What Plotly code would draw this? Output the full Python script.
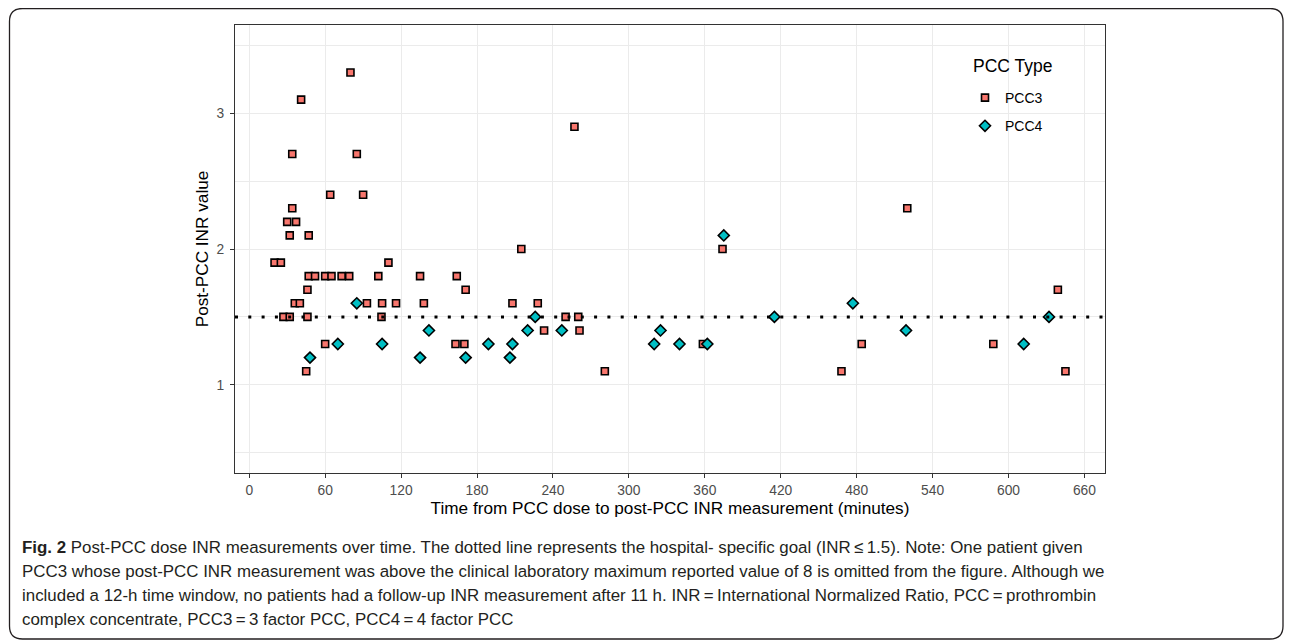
import plotly.graph_objects as go

# ---- data (minutes, INR) ----
pcc3_time = [20, 25, 27, 32, 46, 30, 37, 32, 47, 34, 34, 41, 80, 85, 64, 90,
             47, 52, 60, 65, 73, 79, 46, 36, 40, 93, 105, 116, 138, 104.5, 60, 45,
             110, 102, 135, 164, 171, 208, 228, 215, 250, 260, 233, 261, 163, 170,
             281, 257, 374, 358.5, 468, 484, 520, 588, 639, 645]
pcc3_inr = [1.9, 1.9, 1.5, 1.5, 1.5, 2.2, 2.2, 2.1, 2.1, 2.3, 2.7, 3.1, 3.3, 2.7, 2.4, 2.4,
            1.8, 1.8, 1.8, 1.8, 1.8, 1.8, 1.7, 1.6, 1.6, 1.6, 1.6, 1.6, 1.6, 1.5, 1.3, 1.1,
            1.9, 1.8, 1.8, 1.8, 1.7, 1.6, 1.6, 2.0, 1.5, 1.5, 1.4, 1.4, 1.3, 1.3,
            1.1, 2.9, 2.0, 1.3, 1.1, 1.3, 2.3, 1.3, 1.7, 1.1]

pcc4_time = [48, 70, 85, 105, 135, 142, 171, 189, 206, 208, 220, 226, 247,
             320, 325, 340, 362, 375, 415, 477, 519, 612, 632]
pcc4_inr = [1.2, 1.3, 1.6, 1.3, 1.2, 1.4, 1.2, 1.3, 1.2, 1.3, 1.4, 1.5, 1.4,
            1.3, 1.4, 1.3, 1.3, 2.1, 1.5, 1.6, 1.4, 1.3, 1.5]

GOAL_INR = 1.5
x_ticks = list(range(0, 661, 60))
y_ticks = [1, 2, 3]
y_minor = [0.5, 1.5, 2.5, 3.5]

caption_lines = [
    "<b>Fig. 2</b> Post-PCC dose INR measurements over time. The dotted line represents the hospital- specific goal (INR\u2009\u2264\u20091.5). Note: One patient given",
    "PCC3 whose post-PCC INR measurement was above the clinical laboratory maximum reported value of 8 is omitted from the figure. Although we",
    "included a 12-h time window, no patients had a follow-up INR measurement after 11 h. INR\u2009=\u2009International Normalized Ratio, PCC\u2009=\u2009prothrombin",
    "complex concentrate, PCC3\u2009=\u20093 factor PCC, PCC4\u2009=\u20094 factor PCC",
]

# ---- layout geometry (page pixels; the page body has an 8px margin) ----
W, H = 1292, 641
OFF = 8
L, R, T, B = 235, 1105, 25, 473
FONT = "Liberation Sans, Arial, sans-serif"


def px(xp):
    return (xp - L) / (R - L)


def py(yp):
    return (B - yp) / (B - T)


fig = go.Figure()
fig.add_trace(go.Scatter(
    x=pcc3_time, y=pcc3_inr, mode="markers", name="PCC3", legendgroup="a",
    marker=dict(symbol="square", size=7, color="#F8766D",
                line=dict(color="black", width=1.6)),
))
fig.add_trace(go.Scatter(
    x=pcc4_time, y=pcc4_inr, mode="markers", name="PCC4", legendgroup="b",
    marker=dict(symbol="diamond", size=8.5, color="#00BFC4",
                line=dict(color="black", width=1.6)),
))

# dotted goal line across the panel
fig.add_shape(type="line", xref="paper", yref="y", x0=0, x1=1,
              y0=GOAL_INR, y1=GOAL_INR, layer="above",
              line=dict(color="black", width=3, dash="3px,10.3px"))

# white legend background covering the grid
fig.add_shape(type="rect", xref="paper", yref="paper",
              x0=px(961), x1=px(1062), y0=py(47), y1=py(148),
              fillcolor="white", line=dict(width=0), layer="between")

# rounded outer frame
x0, x1, y0, y1, r = 9.5, 1283, 8.5, 639, 13
path = (f"M {px(x0 + r)} {py(y0)} L {px(x1 - r)} {py(y0)} "
        f"Q {px(x1)} {py(y0)} {px(x1)} {py(y0 + r)} "
        f"L {px(x1)} {py(y1 - r)} Q {px(x1)} {py(y1)} {px(x1 - r)} {py(y1)} "
        f"L {px(x0 + r)} {py(y1)} Q {px(x0)} {py(y1)} {px(x0)} {py(y1 - r)} "
        f"L {px(x0)} {py(y0 + r)} Q {px(x0)} {py(y0)} {px(x0 + r)} {py(y0)} Z")
fig.add_shape(type="path", xref="paper", yref="paper", path=path,
              line=dict(color="#231F20", width=1.3), layer="below")

# caption lines
for i, line in enumerate(caption_lines):
    fig.add_annotation(
        xref="paper", yref="paper", x=px(20), y=py(547 + 24 * i),
        xanchor="left", yanchor="middle", align="left", showarrow=False, text=line,
        font=dict(family=FONT, size=16.9, color="#231F20"),
    )

# legend title
fig.add_annotation(
    xref="paper", yref="paper", x=px(971), y=py(66), xanchor="left", yanchor="middle",
    showarrow=False, text="PCC Type", font=dict(family=FONT, size=17.5, color="black"),
)

axis_common = dict(
    showline=True, linecolor="#333333", linewidth=1, mirror=True,
    ticks="outside", ticklen=4, tickwidth=1, tickcolor="#333333",
    gridcolor="#EBEBEB", gridwidth=1, zeroline=False,
    tickfont=dict(family=FONT, size=13.8, color="#4D4D4D"),
)

fig.update_xaxes(
    range=[-11.25, 676.25], tickmode="array", tickvals=x_ticks,
    title=dict(text="Time from PCC dose to post-PCC INR measurement (minutes)",
               font=dict(family=FONT, size=17.2, color="black"), standoff=4),
    **axis_common,
)
fig.update_yaxes(
    range=[0.35, 3.65], tickmode="array", tickvals=y_ticks,
    minor=dict(tickmode="array", tickvals=y_minor, showgrid=True,
               gridcolor="#EBEBEB", gridwidth=0.8, ticks=""),
    ticklabelstandoff=3,
    title=dict(text="Post-PCC INR value",
               font=dict(family=FONT, size=17.2, color="black"), standoff=3),
    **axis_common,
)

fig.update_layout(
    width=W - OFF, height=H - OFF,
    margin=dict(l=L - OFF, r=W - R, t=T - OFF, b=H - B),
    paper_bgcolor="white", plot_bgcolor="white",
    showlegend=True,
    legend=dict(
        font=dict(family=FONT, size=14, color="black"),
        x=px(965), y=py(82), xanchor="left", yanchor="top",
        bgcolor="rgba(0,0,0,0)", borderwidth=0, itemwidth=30, tracegroupgap=7,
    ),
)

fig.write_html("out.html")
